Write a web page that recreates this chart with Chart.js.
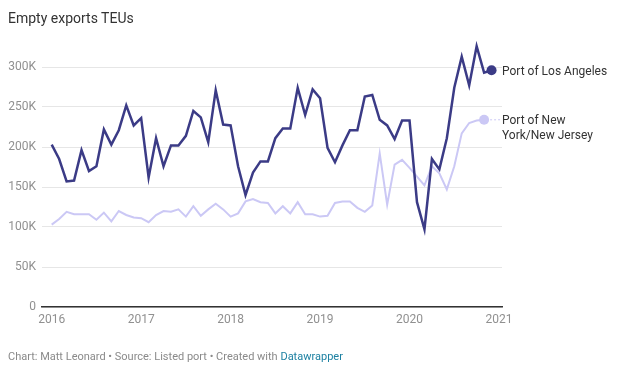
<!DOCTYPE html>
<html>
<head>
<meta charset="utf-8">
<script src="https://cdn.jsdelivr.net/npm/chart.js@4"></script>
<style>
  body { margin: 0; background: #fff; font-family: Roboto, sans-serif; }
  #wrap { position: relative; width: 626px; height: 374px; overflow: hidden; }
  #chart { position: absolute; left: 0; top: 0; }
  .title { position: absolute; left: 8px; top: 10px; font-size: 14px; color: #333; white-space: nowrap; }
  .footer { position: absolute; left: 8px; top: 350px; font-size: 11px; color: #8a8a8a; white-space: nowrap; }
  .footer a { color: #1d81a2; text-decoration: none; }
</style>
</head>
<body>
<div id="wrap">
  <canvas id="chart" width="626" height="374"></canvas>
  <div class="title">Empty exports TEUs</div>
  <div class="footer">Chart: Matt Leonard • Source: Listed port • Created with <a>Datawrapper</a></div>
</div>
<script>
// monthly values in thousands of TEUs, starting Jan 2016
const startYear = 2016;
const losAngeles = [
  203, 185, 157, 158, 196, 170, 176, 222, 203, 221, 252, 227,
  236, 162, 211, 176, 202, 202, 214, 245, 237, 206, 271, 228,
  227, 176, 140, 168, 182, 182, 211, 223, 223, 274, 240, 272,
  261, 199, 181, 202, 221, 221, 263, 265, 234, 227, 210, 233,
  233, 131, 97, 185, 172, 211, 274, 313, 277, 326, 293, 296
];
const newYorkNewJersey = [
  103, 110, 119, 116, 116, 116, 109, 118, 107, 120, 115, 112,
  111, 106, 115, 120, 119, 122, 113, 126, 114, 122, 129, 122,
  113, 117, 132, 135, 131, 130, 117, 126, 117, 131, 116, 116,
  113, 114, 130, 132, 132, 124, 119, 127, 192, 128, 178, 184,
  174, 163, 152, 176, 167, 147, 176, 217, 230, 233, 234
];
const seriesNames = [["Port of Los Angeles"], ["Port of New", "York/New Jersey"]];
const yearTicks = [2016, 2017, 2018, 2019, 2020, 2021];
const valueTicks = [0, 50000, 100000, 150000, 200000, 250000, 300000];

const darkColor = "#3b3b86";
const lightColor = "#cbc8f5";

function toPoints(arr) {
  return arr.map((v, i) => ({ x: startYear + i / 12, y: v * 1000 }));
}

function lastDot(ctx) {
  return ctx.dataIndex === ctx.dataset.data.length - 1 ? 5 : 0;
}

const endLabels = {
  id: "endLabels",
  afterDatasetsDraw(chart) {
    const c = chart.ctx;
    const right = chart.chartArea.right;
    c.save();
    c.font = "12px Roboto";
    c.fillStyle = "#333";
    c.textBaseline = "middle";
    chart.data.datasets.forEach((ds, i) => {
      const meta = chart.getDatasetMeta(i);
      const pt = meta.data[meta.data.length - 1];
      if (pt.x < right - 12) {
        c.save();
        c.strokeStyle = ds.borderColor;
        c.lineWidth = 1;
        c.setLineDash([2, 2]);
        c.beginPath();
        c.moveTo(pt.x + 6, pt.y);
        c.lineTo(right - 2, pt.y);
        c.stroke();
        c.restore();
      }
      seriesNames[i].forEach((line, j) => {
        c.fillText(line, right, pt.y + 1.5 + j * 14.5);
      });
    });
    c.restore();
  }
};

new Chart(document.getElementById("chart"), {
  type: "line",
  data: {
    datasets: [
      {
        label: seriesNames[0].join(" "),
        data: toPoints(losAngeles),
        borderColor: darkColor,
        backgroundColor: darkColor,
        borderWidth: 2.5,
        pointRadius: lastDot,
        pointBorderWidth: 0,
        tension: 0
      },
      {
        label: seriesNames[1].join(" "),
        data: toPoints(newYorkNewJersey),
        borderColor: lightColor,
        backgroundColor: lightColor,
        borderWidth: 2,
        pointRadius: lastDot,
        pointBorderWidth: 0,
        tension: 0
      }
    ]
  },
  options: {
    responsive: false,
    animation: false,
    devicePixelRatio: 1,
    layout: { padding: { left: 0, right: 124, top: 35, bottom: 47 } },
    plugins: { legend: { display: false }, tooltip: { enabled: false } },
    scales: {
      x: {
        type: "linear",
        min: 2015.8916,
        max: 2021.0335,
        afterBuildTicks: s => { s.ticks = yearTicks.map(v => ({ value: v })); },
        afterFit: s => { s.height = 20; },
        grid: { display: false, drawTicks: false },
        border: { display: true, color: "#333", width: 1.5 },
        ticks: {
          padding: 6,
          maxRotation: 0,
          autoSkip: false,
          color: "#909090",
          font: { family: "Roboto", size: 12 },
          callback: v => String(v)
        }
      },
      y: {
        min: 0,
        max: 340000,
        afterBuildTicks: s => { s.ticks = valueTicks.map(v => ({ value: v })); },
        afterFit: s => { s.width = 42; },
        grid: { color: "#e6e6e6", drawTicks: false },
        border: { display: false },
        ticks: {
          padding: 6,
          color: "#909090",
          font: { family: "Roboto", size: 12 },
          callback: v => v === 0 ? "0" : (v / 1000) + "K"
        }
      }
    }
  },
  plugins: [endLabels]
});
</script>
</body>
</html>
